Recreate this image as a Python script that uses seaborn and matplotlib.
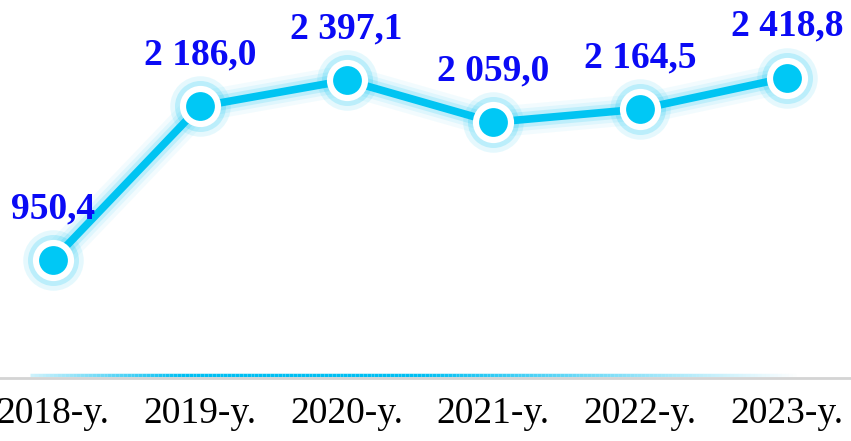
import numpy as np
import pandas as pd
import matplotlib
matplotlib.use("Agg")
import matplotlib.pyplot as plt
import seaborn as sns
from matplotlib.collections import LineCollection

years = ["2018-y.", "2019-y.", "2020-y.", "2021-y.", "2022-y.", "2023-y."]
values = [950.4, 2186.0, 2397.1, 2059.0, 2164.5, 2418.8]
value_labels = ["950,4", "2 186,0", "2 397,1", "2 059,0", "2 164,5", "2 418,8"]

line_color = "#00c4f2"
dot_color = "#00c8f5"
text_color = "#0a0af5"

sns.set_theme(style="white")
plt.rcParams['font.family'] = ['Liberation Serif', 'DejaVu Serif']

df = pd.DataFrame({"x": np.arange(len(years)), "value": values})

fig = plt.figure(figsize=(8.51, 4.41), dpi=100)
ax = fig.add_axes([0, 63 / 441, 1, 378 / 441])

# soft glow under the line
for lw, a in [(22, 0.05), (16, 0.08), (11, 0.15)]:
    ax.plot(df["x"], df["value"], color=line_color, lw=lw, alpha=a,
            solid_capstyle="round", solid_joinstyle="round", zorder=1)
sns.lineplot(data=df, x="x", y="value", color=line_color, lw=5.5, ax=ax, zorder=2)

# markers: glow, white ring, cyan core
ax.scatter(df["x"], df["value"], s=1900, color=line_color, alpha=0.10, lw=0, zorder=3)
ax.scatter(df["x"], df["value"], s=1350, color=line_color, alpha=0.18, lw=0, zorder=3)
ax.scatter(df["x"], df["value"], s=880, color="white", lw=0, zorder=4)
ax.scatter(df["x"], df["value"], s=430, color=dot_color, lw=0, zorder=5)

for xi, v, lab in zip(df["x"], values, value_labels):
    ax.annotate(lab, (xi, v), xytext=(0, 37), textcoords="offset points",
                ha="center", va="center", fontsize=27, fontweight="bold",
                color=text_color, zorder=6)

ax.set_xlim(-53 / 146.8, 5 + 64 / 146.8)
ax.set_ylim(0, 3043)
ax.set_xticks(df["x"])
ax.set_xticklabels(years, fontsize=27, color="black")
ax.tick_params(axis="x", length=0, pad=13)
ax.set_yticks([])
ax.set_xlabel("")
ax.set_ylabel("")
for s in ["top", "right", "left"]:
    ax.spines[s].set_visible(False)
ax.spines["bottom"].set_color("#d4d4d4")
ax.spines["bottom"].set_linewidth(2)

# faded blue highlight just above the axis line
xs = np.linspace(30 / 851, 800 / 851, 200)
segs = [[(xs[i], 0.008), (xs[i + 1], 0.008)] for i in range(len(xs) - 1)]
alph = np.clip(np.concatenate([np.linspace(0.2, 1, 40), np.ones(60), np.linspace(1, 0, 99)]), 0, 1)
cols = [(0.0, 0.75, 0.95, a) for a in alph[:len(segs)]]
lc = LineCollection(segs, colors=cols, linewidths=2.5, transform=ax.transAxes, zorder=2)
ax.add_collection(lc)

fig.savefig("out.png", dpi=100)
